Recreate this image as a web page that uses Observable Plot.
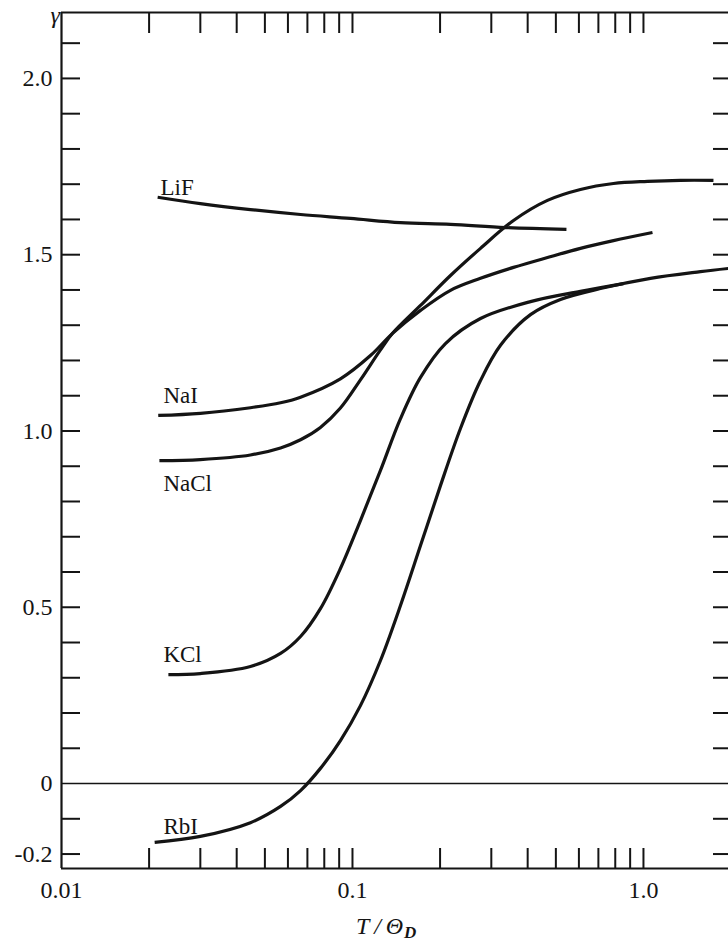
<!DOCTYPE html>
<html><head><meta charset="utf-8">
<script src="https://cdn.jsdelivr.net/npm/d3@7"></script>
<script src="https://cdn.jsdelivr.net/npm/@observablehq/plot@0.6"></script>
<style>html,body{margin:0;padding:0;background:#fff;} #chart svg{display:block}</style>
</head><body><div id="chart"></div>
<script>
// ---- data ----
const seriesNames = ["LiF", "NaI", "NaCl", "KCl", "RbI"];

const tLiF = [0.0214, 0.0300, 0.0446, 0.0663, 0.0984, 0.1462, 0.2172, 0.3356, 0.5437];
const gLiF = [1.663, 1.645, 1.628, 1.614, 1.603, 1.591, 1.586, 1.577, 1.572];

const tNaI = [0.0215, 0.0300, 0.0446, 0.0566, 0.0663, 0.0909, 0.1153, 0.1373, 0.1713, 0.2172, 0.2754, 0.3576, 0.4678, 0.6073, 0.7888, 1.074];
const gNaI = [1.044, 1.050, 1.066, 1.080, 1.096, 1.148, 1.214, 1.277, 1.342, 1.399, 1.433, 1.464, 1.492, 1.518, 1.540, 1.563];

const tNaCl = [0.0217, 0.0300, 0.0446, 0.0566, 0.0663, 0.0776, 0.0909, 0.1065, 0.1248, 0.1373, 0.1713, 0.2172, 0.2754, 0.3576, 0.4678, 0.6073, 0.7888, 1.032, 1.340, 1.740];
const gNaCl = [0.916, 0.919, 0.932, 0.952, 0.975, 1.010, 1.065, 1.145, 1.230, 1.277, 1.356, 1.441, 1.518, 1.597, 1.654, 1.685, 1.702, 1.708, 1.711, 1.711];

const tKCl = [0.0233, 0.0300, 0.0446, 0.0566, 0.0663, 0.0776, 0.0909, 0.1065, 0.1248, 0.1462, 0.1713, 0.2087, 0.2754, 0.4090, 0.6073, 0.8537];
const gKCl = [0.309, 0.312, 0.332, 0.369, 0.417, 0.496, 0.610, 0.746, 0.888, 1.035, 1.152, 1.248, 1.319, 1.367, 1.396, 1.418];

const tRbI = [0.0209, 0.0300, 0.0446, 0.0566, 0.0663, 0.0776, 0.0909, 0.1065, 0.1248, 0.1462, 0.1713, 0.2006, 0.2350, 0.2754, 0.3226, 0.4090, 0.5185, 0.7116, 1.057, 1.570, 1.960];
const gRbI = [-0.167, -0.150, -0.111, -0.065, -0.020, 0.043, 0.122, 0.221, 0.349, 0.505, 0.675, 0.845, 1.007, 1.143, 1.243, 1.330, 1.373, 1.404, 1.433, 1.452, 1.461];

// label anchor positions (data coordinates)
const labelT = [0.0219, 0.0224, 0.0224, 0.0224, 0.0224];
const labelG = [1.691, 1.101, 0.851, 0.367, -0.122];

// axes
const xDomain = [0.01, 1.96];
const yDomain = [-0.241, 2.187];
const xMinorTicks = [0.02, 0.03, 0.04, 0.05, 0.06, 0.07, 0.08, 0.09, 0.1, 0.2, 0.3, 0.4, 0.5, 0.6, 0.7, 0.8, 0.9, 1.0];
const xMajorTicks = [0.01, 0.1, 1.0];
const xTickLabels = ["0.01", "0.1", "1.0"];
const yMinorTicks = [-0.2, -0.1, 0.1, 0.2, 0.3, 0.4, 0.5, 0.6, 0.7, 0.8, 0.9, 1.0, 1.1, 1.2, 1.3, 1.4, 1.5, 1.6, 1.7, 1.8, 1.9, 2.0, 2.1];
const yMajorTicks = [-0.2, 0, 0.5, 1.0, 1.5, 2.0];
const yTickLabels = ["-0.2", "0", "0.5", "1.0", "1.5", "2.0"];
const yTitle = "γ";
const xTitleMain = "T\u2009/\u2009Θ";
const xTitleSub = "D";

// ---- build table ----
const allT = [tLiF, tNaI, tNaCl, tKCl, tRbI];
const allG = [gLiF, gNaI, gNaCl, gKCl, gRbI];
const rows = [];
seriesNames.forEach((s, k) => allT[k].forEach((t, i) => rows.push({s, T: t, g: allG[k][i]})));
const labels = seriesNames.map((s, k) => ({s, T: labelT[k], g: labelG[k]}));

const ink = "#141414";
const font = "Liberation Serif, Times New Roman, serif";

const chart = Plot.plot({
  width: 728, height: 945,
  marginLeft: 61, marginRight: 0, marginTop: 12, marginBottom: 77,
  x: {type: "log", domain: xDomain, label: null},
  y: {domain: yDomain, label: null},
  style: {fontFamily: font, background: "#fff", color: ink},
  marks: [
    // frame (left, top, bottom) and zero line
    Plot.ruleX([xDomain[0]], {stroke: ink, strokeWidth: 2.2}),
    Plot.ruleY([yDomain[0], yDomain[1]], {stroke: ink, strokeWidth: 2.2}),
    Plot.ruleY([0], {stroke: ink, strokeWidth: 1.4}),
    // inward ticks
    Plot.axisY({anchor: "left", ticks: yMinorTicks, tickSize: 19, dx: 19, tickFormat: () => "", label: null, stroke: ink, strokeWidth: 2}),
    Plot.axisY({anchor: "right", ticks: yMinorTicks, tickSize: 16, dx: -16, tickFormat: () => "", label: null, stroke: ink, strokeWidth: 2}),
    Plot.axisX({anchor: "top", ticks: xMinorTicks, tickSize: 20, dy: 20, tickFormat: () => "", label: null, stroke: ink, strokeWidth: 2}),
    Plot.axisX({anchor: "bottom", ticks: xMinorTicks, tickSize: 20, dy: -20, tickFormat: () => "", label: null, stroke: ink, strokeWidth: 2}),
    // tick labels
    Plot.axisY({anchor: "left", ticks: yMajorTicks, tickSize: 0, tickPadding: 9, fontSize: 24, fill: ink,
      tickFormat: d => yTickLabels[yMajorTicks.findIndex(v => Math.abs(v - d) < 1e-9)], label: null}),
    Plot.axisX({anchor: "bottom", ticks: xMajorTicks, tickSize: 0, tickPadding: 12, fontSize: 24, fill: ink,
      tickFormat: d => xTickLabels[xMajorTicks.findIndex(v => Math.abs(v - d) < 1e-9)], label: null}),
    // curves
    Plot.line(rows, {x: "T", y: "g", z: "s", curve: "catmull-rom", stroke: ink, strokeWidth: 3.2, strokeLinecap: "butt"}),
    // series labels
    Plot.text(labels, {x: "T", y: "g", text: "s", textAnchor: "start", fontSize: 23, fill: ink}),
    // axis titles
    Plot.text([yTitle], {frameAnchor: "top-left", text: d => d, lineAnchor: "middle", dx: -11, dy: 3, fontSize: 24, fontStyle: "italic", fill: ink}),
    Plot.text([xTitleMain], {frameAnchor: "bottom", text: d => d, textAnchor: "start", lineAnchor: "middle", dx: -39, dy: 58, fontSize: 24, fontStyle: "italic", fill: ink}),
    Plot.text([xTitleSub], {frameAnchor: "bottom", text: d => d, textAnchor: "start", lineAnchor: "middle", dx: 9, dy: 64, fontSize: 17, fontStyle: "italic", fontWeight: "bold", fill: ink})
  ]
});
document.getElementById("chart").appendChild(chart);
</script></body></html>
